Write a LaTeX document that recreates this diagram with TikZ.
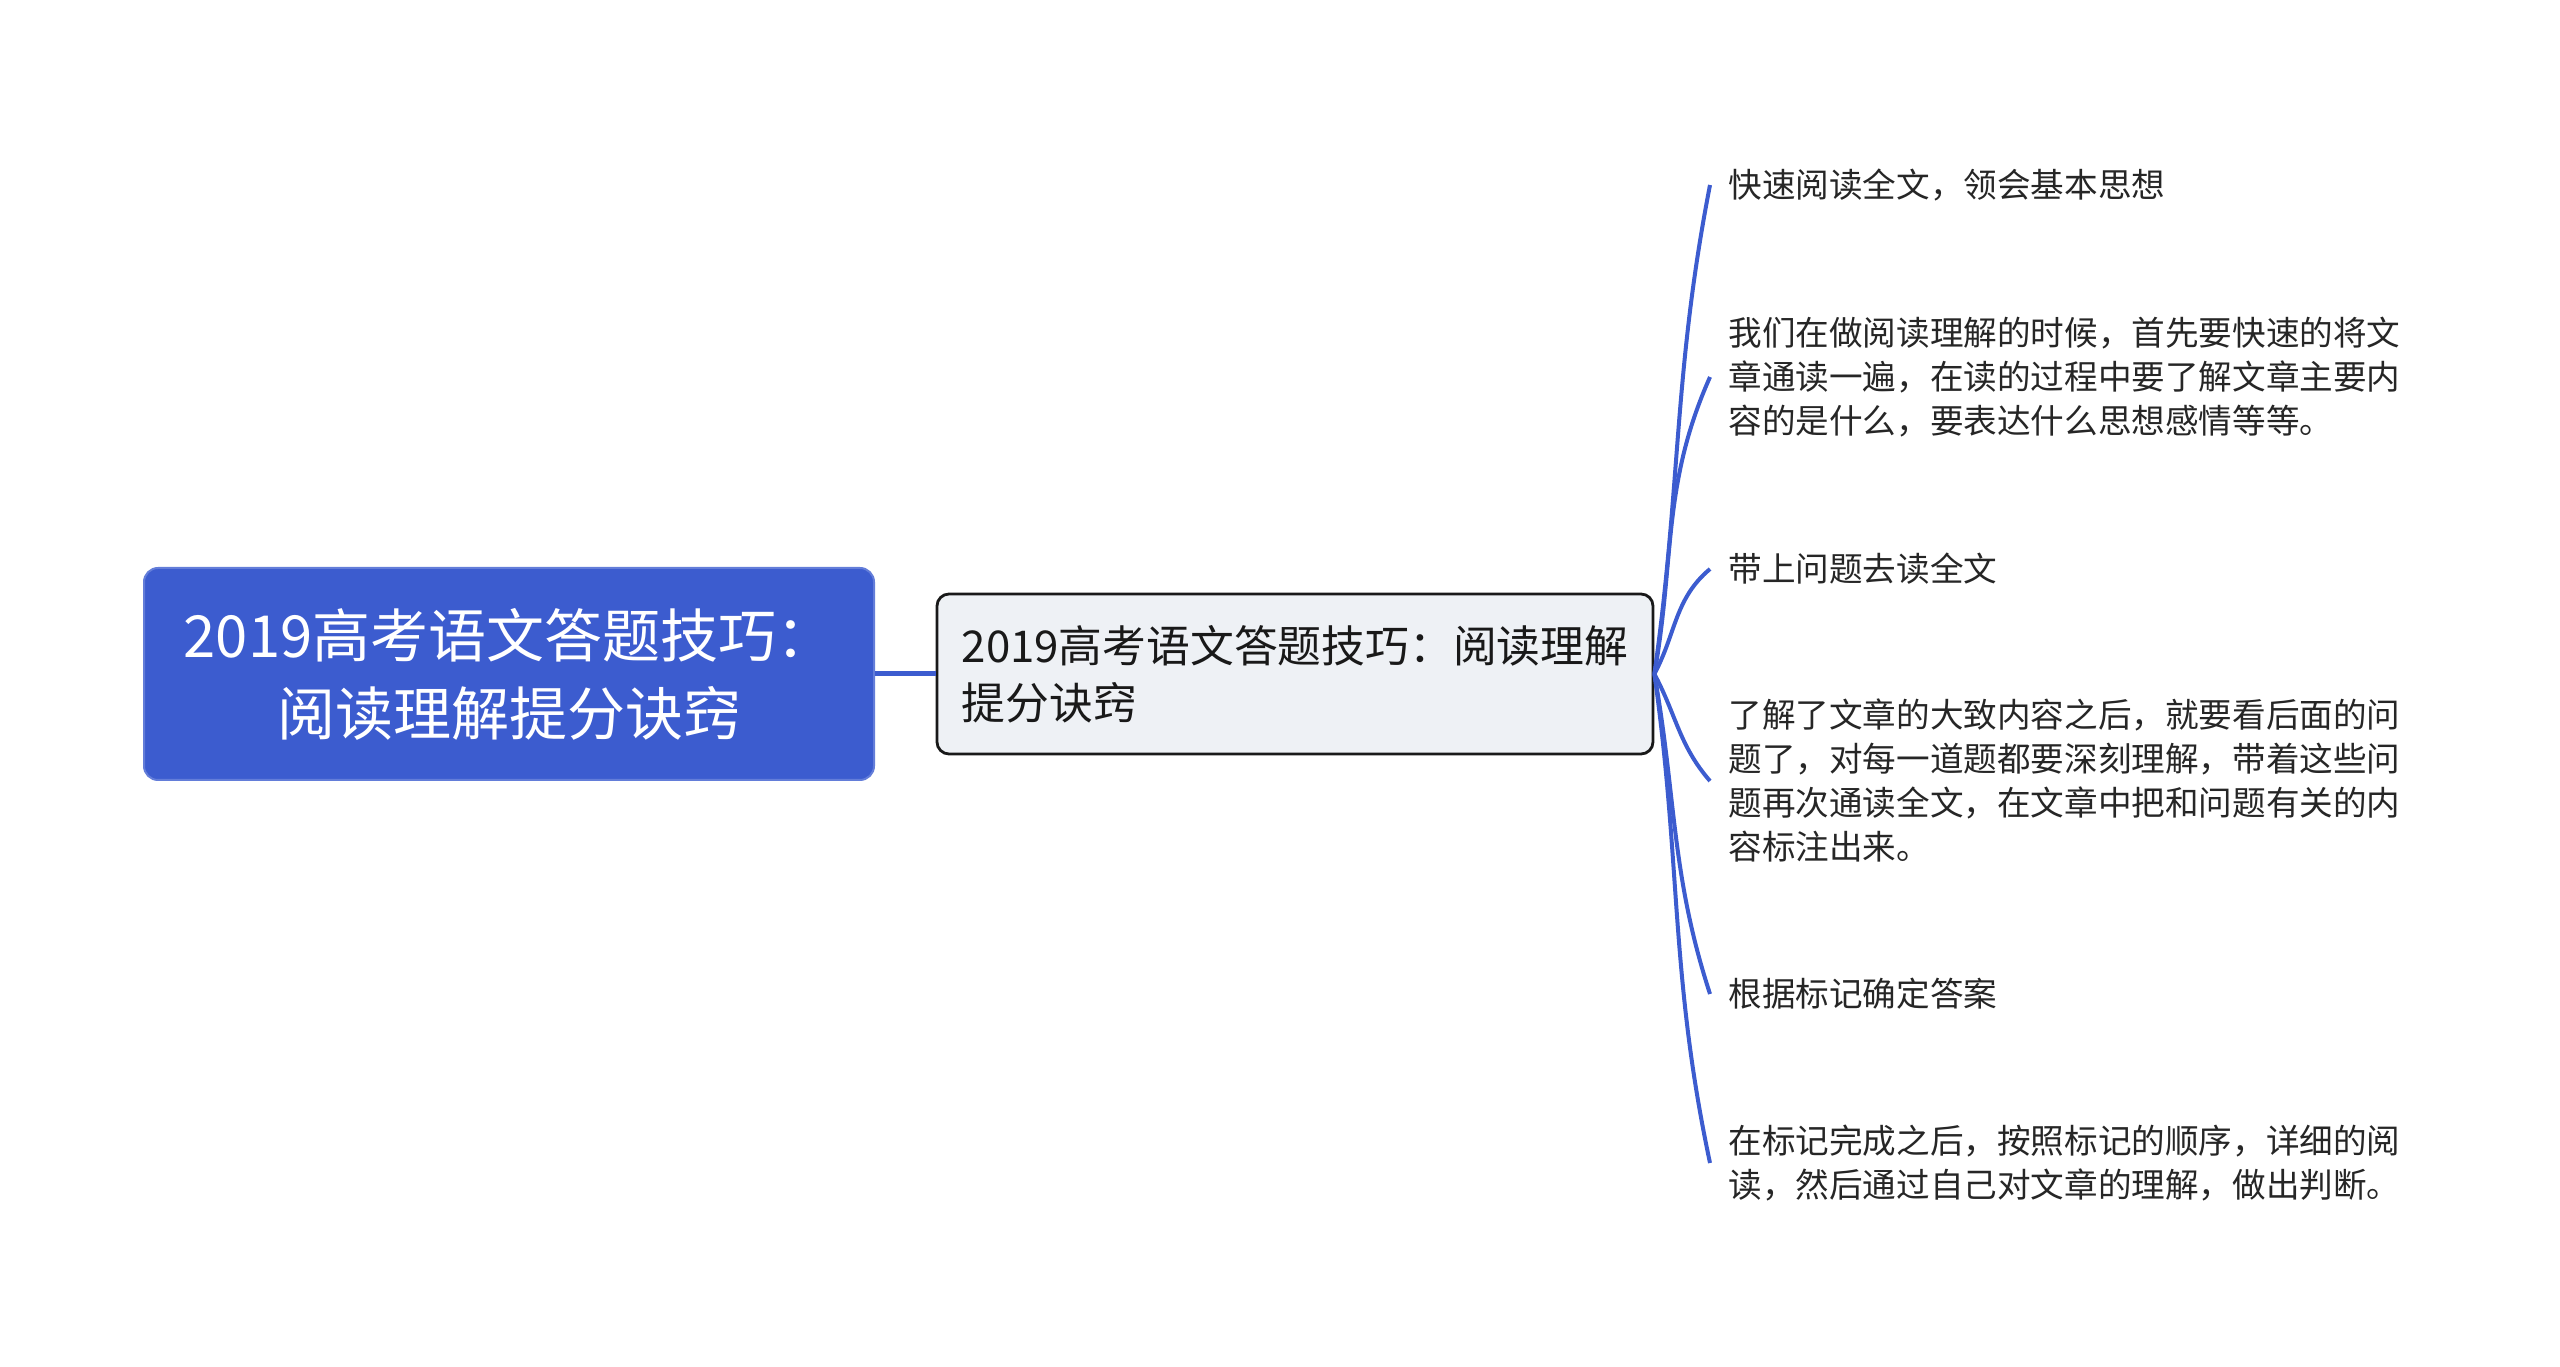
\documentclass[tikz,border=0pt]{standalone}
\usepackage{fontspec}
\setmainfont{Noto Sans CJK SC}
\usepackage{xcolor}
\usepackage{tikz}
\definecolor{mapblue}{HTML}{3C5CCF}
\definecolor{subgray}{HTML}{EEF1F5}
\definecolor{leaftext}{HTML}{262626}

\begin{document}
\begin{tikzpicture}[x=0.5pt,y=0.5pt,
    rootbox/.style={rectangle,rounded corners=7pt,fill=mapblue,draw=mapblue!80!white,line width=1pt,
      text=white,minimum width=365pt,minimum height=106pt,align=center,
      font=\fontsize{29pt}{39pt}\selectfont},
    subbox/.style={rectangle,rounded corners=6pt,fill=subgray,draw=black!90,line width=1.4pt,
      text=black!90,inner xsep=9pt,minimum width=358pt,minimum height=80pt,align=left,
      font=\fontsize{21.9pt}{28.7pt}\selectfont},
    leaf/.style={anchor=west,inner xsep=9pt,inner ysep=0pt,align=left,text=leaftext,
      font=\fontsize{16.8pt}{22pt}\selectfont},
    branch/.style={mapblue,line width=2pt}]
       \useasboundingbox (0,0) rectangle (2560,1366);
       \node[rootbox] (root) at (509,692) {2019高考语文答题技巧：\\阅读理解提分诀窍};
       \node[subbox] (sub) at (1295,692) {2019高考语文答题技巧：阅读理解\\提分诀窍};
       \draw[mapblue,line width=2.5pt] (root) -- (sub);
       \node[leaf] (l1) at (1710,1181) {快速阅读全文，领会基本思想};
       \node[leaf] (l2) at (1710,989) {我们在做阅读理解的时候，首先要快速的将文\\章通读一遍，在读的过程中要了解文章主要内\\容的是什么，要表达什么思想感情等等。};
       \node[leaf] (l3) at (1710,797) {带上问题去读全文};
       \node[leaf] (l4) at (1710,585) {了解了文章的大致内容之后，就要看后面的问\\题了，对每一道题都要深刻理解，带着这些问\\题再次通读全文，在文章中把和问题有关的内\\容标注出来。};
       \node[leaf] (l5) at (1710,372) {根据标记确定答案};
       \node[leaf] (l6) at (1710,203) {在标记完成之后，按照标记的顺序，详细的阅\\读，然后通过自己对文章的理解，做出判断。};
       \foreach \leaf/\o/\i in {l1/82/259,l2/80/246,l3/62/220,l4/-62/131,l5/-80/108,l6/-82/102}
       {
         \draw[branch] (sub.east) to[out=\o,in=\i] (\leaf.west);
       }
     \end{tikzpicture}
\end{document}
